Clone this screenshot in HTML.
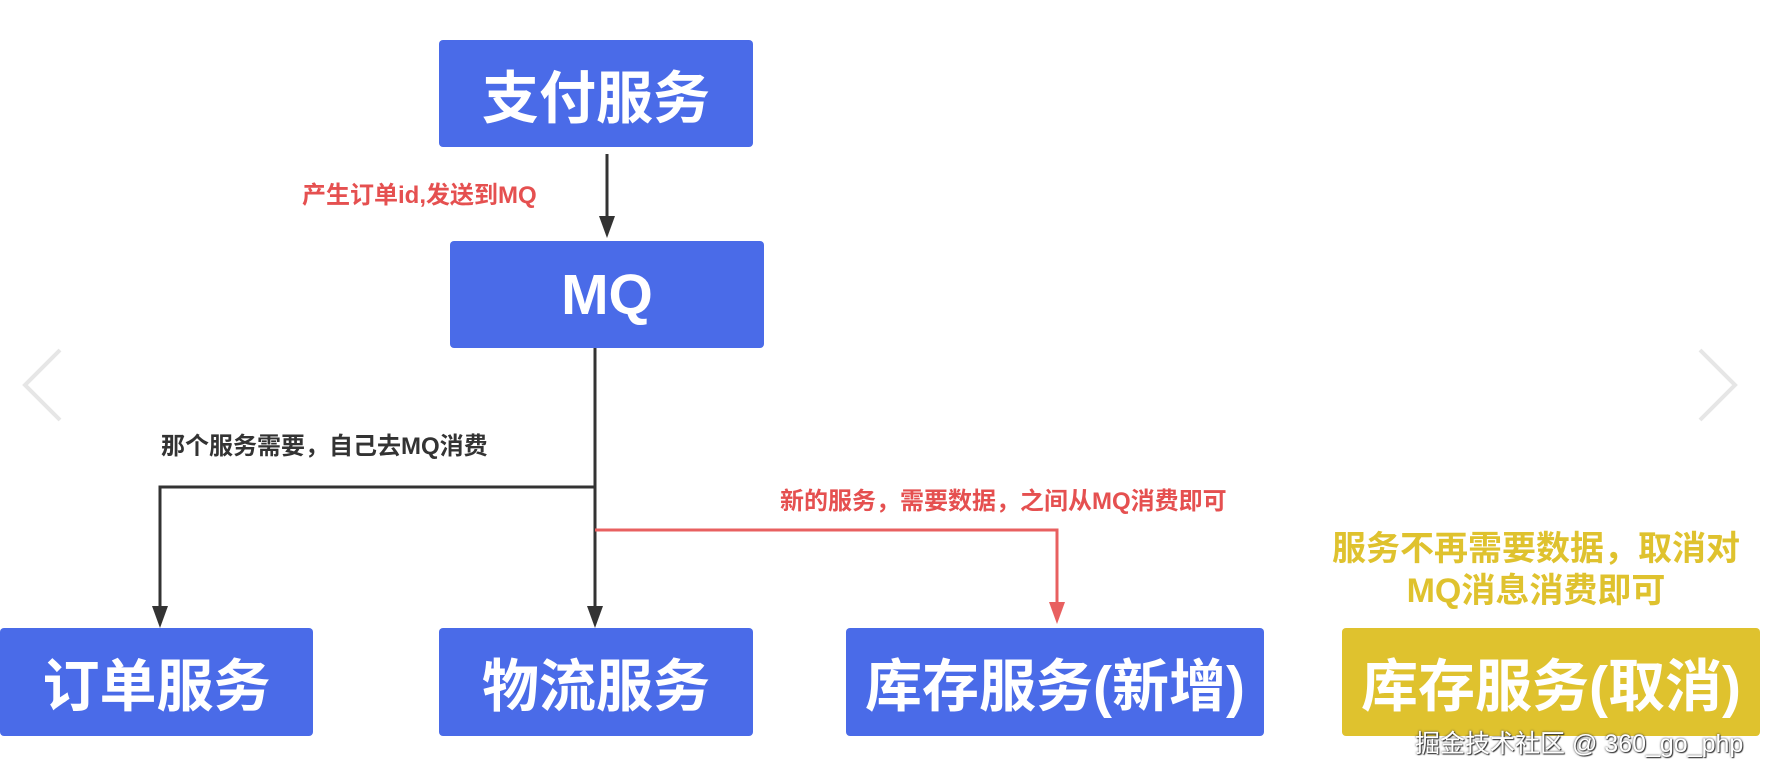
<!DOCTYPE html>
<html><head><meta charset="utf-8"><style>
body{margin:0;width:1768px;height:774px;background:#fff;position:relative;overflow:hidden;font-family:"Liberation Sans","Noto Sans CJK SC",sans-serif}
.b{position:absolute;background:#4a6be8;border-radius:4px;color:#fff;font-weight:bold;display:flex;align-items:center;justify-content:center;font-size:57px;white-space:nowrap}
.y{background:#dfc22e}
.t{position:absolute;font-weight:bold;white-space:nowrap}
</style></head><body>
<svg width="1768" height="774" style="position:absolute;left:0;top:0">
<g stroke="#333" stroke-width="3" fill="none">
<line x1="607" y1="154" x2="607" y2="218"/>
<line x1="595" y1="348" x2="595" y2="608"/>
<polyline points="595,487 160,487 160,608"/>
</g>
<polyline points="595,530 1057,530 1057,604" stroke="#e86060" stroke-width="3" fill="none"/>
<g fill="#333">
<polygon points="599,216 615,216 607,238"/>
<polygon points="152,606 168,606 160,628"/>
<polygon points="587,606 603,606 595,628"/>
</g>
<polygon points="1049,602 1065,602 1057,624" fill="#e86060"/>
<g stroke="#e6e6e6" stroke-width="4" fill="none">
<polyline points="60,350 25,385 60,420"/>
<polyline points="1700,350 1735,385 1700,420"/>
</g>
</svg>
<div class="b" style="left:439px;top:40px;width:314px;height:107px">支付服务</div>
<div class="b" style="left:450px;top:241px;width:314px;height:107px">MQ</div>
<div class="b" style="left:0;top:628px;width:313px;height:108px">订单服务</div>
<div class="b" style="left:439px;top:628px;width:314px;height:108px">物流服务</div>
<div class="b" style="left:846px;top:628px;width:418px;height:108px">库存服务(新增)</div>
<div class="b y" style="left:1342px;top:628px;width:418px;height:108px">库存服务(取消)</div>
<div class="t" style="left:302px;top:175px;font-size:24px;color:#e55050">产生订单id,发送到MQ</div>
<div class="t" style="left:161px;top:426px;font-size:24px;color:#333">那个服务需要，自己去MQ消费</div>
<div class="t" style="left:780px;top:481px;font-size:24px;color:#e55050">新的服务，需要数据，之间从MQ消费即可</div>
<div class="t" style="left:1320px;top:528px;width:432px;text-align:center;font-size:34px;line-height:42px;color:#dfc22e">服务不再需要数据，取消对<br>MQ消息消费即可</div>
<div style="position:absolute;left:1415px;top:724px;font-size:25px;color:#fff;text-shadow:0 0 2px #333,1px 1px 1px #333;white-space:nowrap">掘金技术社区 @ 360_go_php</div>
</body></html>
